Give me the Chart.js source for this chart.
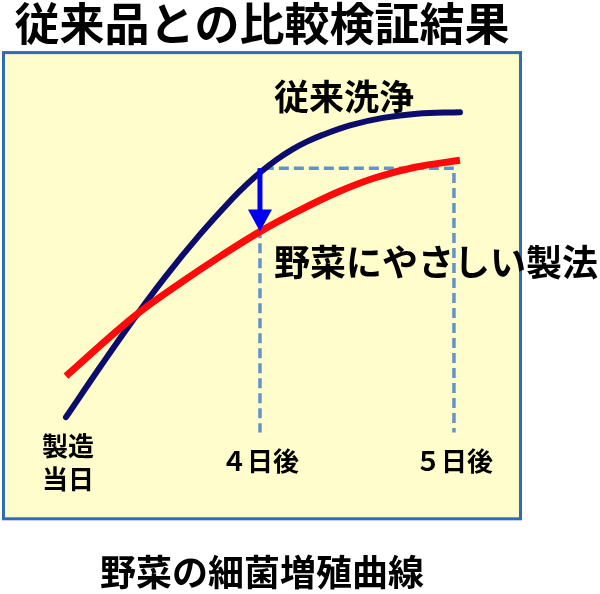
<!DOCTYPE html>
<html>
<head>
<meta charset="utf-8">
<script src="https://cdn.jsdelivr.net/npm/chart.js@4/dist/chart.umd.min.js"></script>
<style>
html, body { margin: 0; padding: 0; background: #ffffff; }
</style>
</head>
<body>
<canvas id="graph" width="600" height="594"></canvas>
<script>
var g_font = "'Noto Sans CJK JP', 'Noto Sans', sans-serif";
var g_title = "従来品との比較検証結果";
var g_caption = "野菜の細菌増殖曲線";

// x: 0 = 製造当日, 1 = 4日後, 2 = 5日後 (schematic, evenly spaced in the picture)
var g_dayPositions = [0, 1, 2];
var g_dayLabels = [["製造", "当日"], ["４日後"], ["５日後"]];

var g_conventionalLabel = "従来洗浄";
var g_conventionalX = [0, 0.175, 0.345, 0.51, 0.691, 0.856, 0.933, 1.01, 1.088, 1.165, 1.242, 1.32, 1.464, 1.634, 1.809, 2.031];
var g_conventionalY = [21.8, 32.5, 42.6, 51.8, 61.0, 68.6, 71.8, 74.6, 77.1, 79.2, 80.9, 82.3, 84.4, 86.0, 86.9, 87.2];

var g_gentleLabel = "野菜にやさしい製法";
var g_gentleX = [0, 0.351, 0.598, 0.799, 1.0, 1.201, 1.402, 1.598, 1.799, 2.031];
var g_gentleY = [30.6, 43.4, 50.8, 56.4, 61.6, 66.1, 70.1, 73.2, 75.4, 76.9];

// dashed guide: level of 従来洗浄 at day 4, dropped to the axis
var g_compareLevel = 75.2;
var g_gentleAtDay4 = 61.6;
var g_guideBottom = 18.5;

var g_navy = "#0c0c6c";
var g_red = "#ff0a0a";
var g_guideColor = "#6592c8";
var g_arrowBlue = "#0000f0";

function toPoints(xs, ys) {
    return xs.map(function (x, i) { return { x: x, y: ys[i] }; });
}

var boxPlugin = {
    id: "box",
    beforeDraw: function (chart) {
        var ctx = chart.ctx;
        var a = chart.chartArea;
        ctx.save();
        ctx.fillStyle = "#fffdcc";
        ctx.fillRect(a.left, a.top, a.right - a.left, a.bottom - a.top);
        ctx.restore();
    },
    afterDraw: function (chart) {
        var ctx = chart.ctx;
        var a = chart.chartArea;
        ctx.save();
        ctx.strokeStyle = "#2f6cb5";
        ctx.lineWidth = 3;
        ctx.strokeRect(a.left, a.top, a.right - a.left, a.bottom - a.top);
        ctx.restore();
    }
};

var arrowPlugin = {
    id: "arrow",
    afterDatasetsDraw: function (chart) {
        var ctx = chart.ctx;
        var xs = chart.scales.x, ys = chart.scales.y;
        var x = xs.getPixelForValue(1);
        var y0 = ys.getPixelForValue(g_compareLevel);
        var y1 = ys.getPixelForValue(g_gentleAtDay4);
        ctx.save();
        ctx.strokeStyle = g_arrowBlue;
        ctx.fillStyle = g_arrowBlue;
        ctx.lineWidth = 5;
        ctx.beginPath();
        ctx.moveTo(x, y0);
        ctx.lineTo(x, y1 - 18);
        ctx.stroke();
        ctx.beginPath();
        ctx.moveTo(x - 12, y1 - 22);
        ctx.lineTo(x + 12, y1 - 22);
        ctx.lineTo(x, y1);
        ctx.closePath();
        ctx.fill();
        ctx.restore();
    }
};

var textPlugin = {
    id: "texts",
    afterDraw: function (chart) {
        var ctx = chart.ctx;
        var xs = chart.scales.x;
        var a = chart.chartArea;
        ctx.save();
        ctx.fillStyle = "#000000";
        ctx.textBaseline = "middle";
        // series labels
        ctx.textAlign = "left";
        ctx.font = "bold 35px " + g_font;
        ctx.fillText(g_conventionalLabel, 274, 97);
        ctx.font = "bold 36px " + g_font;
        ctx.fillText(g_gentleLabel, 274, 262);
        // day labels under the curves
        ctx.textAlign = "center";
        ctx.font = "bold 26px " + g_font;
        for (var i = 0; i < g_dayPositions.length; i++) {
            var px = xs.getPixelForValue(g_dayPositions[i]);
            var lines = g_dayLabels[i];
            if (lines.length === 2) {
                ctx.fillText(lines[0], px + 2, a.bottom - 73);
                ctx.fillText(lines[1], px + 2, a.bottom - 40);
            } else {
                ctx.fillText(lines[0], px, a.bottom - 58);
            }
        }
        ctx.restore();
    }
};

var ctx = document.getElementById("graph").getContext("2d");
var g_chart = new Chart(ctx, {
    type: "line",
    data: {
        datasets: [{
                label: g_gentleLabel,
                data: toPoints(g_gentleX, g_gentleY),
                borderColor: g_red,
                borderWidth: 7,
                borderCapStyle: "butt",
                tension: 0.4,
                pointRadius: 0
            }, {
                label: g_conventionalLabel,
                data: toPoints(g_conventionalX, g_conventionalY),
                borderColor: g_navy,
                borderWidth: 6,
                borderCapStyle: "round",
                tension: 0.4,
                pointRadius: 0
            }, {
                label: "guide5",
                data: [{ x: 1.02, y: g_compareLevel }, { x: 2, y: g_compareLevel }, { x: 2, y: g_guideBottom }],
                borderColor: g_guideColor,
                borderWidth: 3.5,
                borderDash: [10, 5],
                tension: 0,
                pointRadius: 0
            }, {
                label: "guide4",
                data: [{ x: 1, y: g_compareLevel }, { x: 1, y: g_guideBottom }],
                borderColor: g_guideColor,
                borderWidth: 3.5,
                borderDash: [10, 5],
                tension: 0,
                pointRadius: 0
            }]
    },
    options: {
        responsive: false,
        animation: false,
        layout: { padding: { left: 3.5, right: 79.5, top: 0, bottom: 0 } },
        scales: {
            x: { type: "linear", min: -0.322, max: 2.343, display: false },
            y: { min: 0, max: 100, display: false }
        },
        plugins: {
            legend: { display: false },
            tooltip: { enabled: false },
            title: {
                display: true,
                text: g_title,
                color: "#000000",
                font: { family: g_font, size: 45, weight: "bold", lineHeight: 1.08 },
                padding: { top: 0, bottom: 4 }
            },
            subtitle: {
                display: true,
                position: "bottom",
                text: g_caption,
                color: "#000000",
                font: { family: g_font, size: 36, weight: "bold", lineHeight: 1.2 },
                padding: { top: 32, bottom: 0 }
            }
        }
    },
    plugins: [boxPlugin, arrowPlugin, textPlugin]
});
</script>
</body>
</html>
